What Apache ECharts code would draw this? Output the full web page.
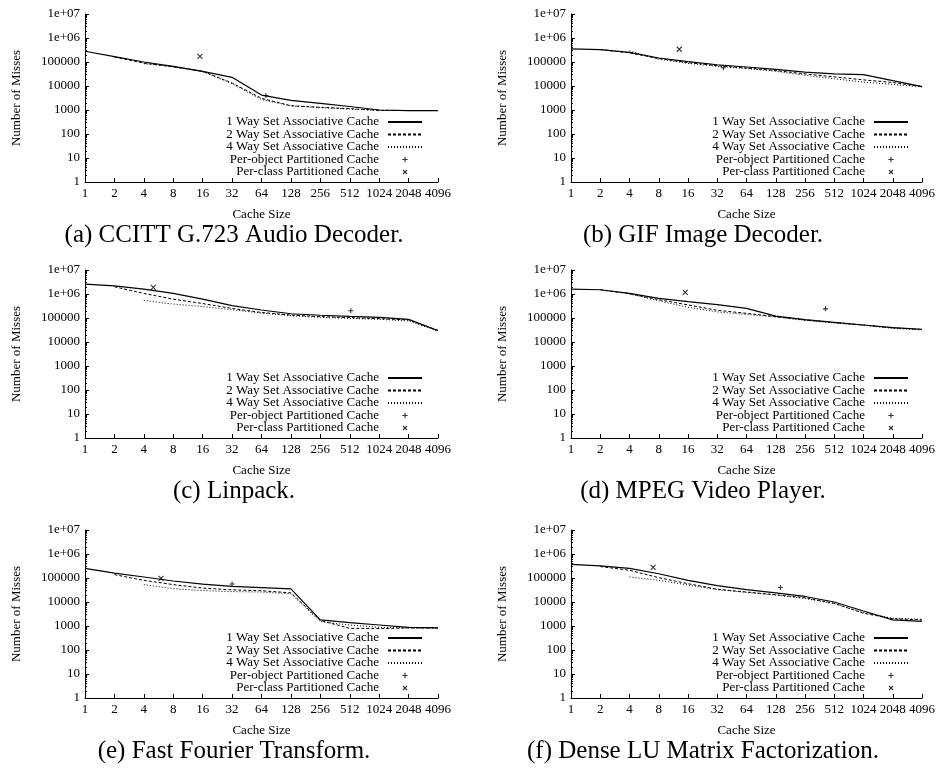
<!DOCTYPE html>
<html>
<head>
  <meta charset="utf-8">
  <title>Number of Misses vs Cache Size</title>
  <script src="https://cdn.jsdelivr.net/npm/echarts@6/dist/echarts.min.js"></script>
  <style>
    html, body { margin: 0; padding: 0; background: #fff; }
    #main { width: 938px; height: 777px; }
  </style>
</head>
<body>
  <div id="main"></div>
  <script>
  var cacheSizes = [1, 2, 4, 8, 16, 32, 64, 128, 256, 512, 1024, 2048, 4096];
  var yTickValues = [1, 10, 100, 1000, 10000, 100000, 1000000, 10000000];
  var yTickLabels = ['1', '10', '100', '1000', '10000', '100000', '1e+06', '1e+07'];
  var seriesNames = ['1 Way Set Associative Cache', '2 Way Set Associative Cache', '4 Way Set Associative Cache',
                     'Per-object Partitioned Cache', 'Per-class Partitioned Cache'];
  var captions = ['(a) CCITT G.723 Audio Decoder.', '(b) GIF Image Decoder.', '(c) Linpack.',
                  '(d) MPEG Video Player.', '(e) Fast Fourier Transform.', '(f) Dense LU Matrix Factorization.'];

  // (a) CCITT G.723
  var aWay1 = [2.8e5, 1.67e5, 1.0e5, 6.6e4, 4.1e4, 2.3e4, 4.2e3, 2.5e3, 1.9e3, 1.4e3, 1.0e3, 950, 950];
  var aWay2 = [null, 1.6e5, 9.0e4, 6.3e4, 4.1e4, 1.33e4, 3.07e3, 1.5e3, 1.3e3, 1.13e3, 970, 950, 950];
  var aWay4 = [null, null, 8.5e4, 6.3e4, 4.0e4, 1.25e4, 2.7e3, 1.5e3, 1.25e3, 1.1e3, 950, 950, 950];
  var aObj = [[71, 4000]];
  var aCls = [[15, 1.7e5]];
  // (b) GIF
  var bWay1 = [3.5e5, 3.3e5, 2.5e5, 1.47e5, 1.03e5, 7.7e4, 6.2e4, 4.9e4, 3.8e4, 3.2e4, 3.0e4, 1.67e4, 9.4e3];
  var bWay2 = [null, 3.3e5, 2.4e5, 1.4e5, 9.4e4, 7.0e4, 5.6e4, 4.4e4, 3.2e4, 2.4e4, 1.8e4, 1.4e4, 9.4e3];
  var bWay4 = [null, null, 2.9e5, 1.3e5, 8.8e4, 6.6e4, 5.3e4, 4.1e4, 2.8e4, 2.0e4, 1.45e4, 1.17e4, 9.2e3];
  var bObj = [[37, 5.8e4]];
  var bCls = [[13, 3.4e5]];
  // (c) Linpack
  var cWay1 = [2.6e6, 2.2e6, 1.6e6, 1.06e6, 6.1e5, 3.3e5, 2.15e5, 1.5e5, 1.3e5, 1.17e5, 1.07e5, 8.8e4, 3.0e4];
  var cWay2 = [null, 2.0e6, 1.06e6, 6.1e5, 4.0e5, 2.5e5, 1.7e5, 1.33e5, 1.14e5, 1.03e5, 9.4e4, 8.3e4, 3.0e4];
  var cWay4 = [null, null, 5.4e5, 3.8e5, 3.0e5, 2.2e5, 1.6e5, 1.25e5, 1.06e5, 9.7e4, 8.8e4, 7.5e4, 2.8e4];
  var cObj = [[525, 2.0e5]];
  var cCls = [[5, 1.9e6]];
  // (d) MPEG
  var dWay1 = [1.6e6, 1.5e6, 1.06e6, 6.6e5, 4.8e5, 3.6e5, 2.5e5, 1.2e5, 8.5e4, 6.6e4, 5.1e4, 4.0e4, 3.4e4];
  var dWay2 = [null, 1.5e6, 1.03e6, 5.8e5, 3.5e5, 2.1e5, 1.56e5, 1.14e5, 8.3e4, 6.4e4, 5.1e4, 3.9e4, 3.3e4];
  var dWay4 = [null, null, 1.0e6, 5.2e5, 2.8e5, 1.8e5, 1.4e5, 1.1e5, 8.0e4, 6.2e4, 5.0e4, 3.7e4, 3.2e4];
  var dObj = [[416, 2.4e5]];
  var dCls = [[15, 1.17e6]];
  // (e) FFT
  var eWay1 = [2.5e5, 1.6e5, 1.1e5, 7.5e4, 5.6e4, 4.5e4, 4.0e4, 3.5e4, 1.8e3, 1.37e3, 1.1e3, 880, 830];
  var eWay2 = [null, 1.38e5, 8.0e4, 5.3e4, 3.8e4, 3.2e4, 2.95e4, 2.4e4, 1.7e3, 800, 780, 830, 830];
  var eWay4 = [null, null, 5.3e4, 3.6e4, 3.0e4, 2.7e4, 2.6e4, 2.2e4, 1.5e3, 1.1e3, 880, 830, 830];
  var eObj = [[32, 5.6e4]];
  var eCls = [[6, 9.7e4]];
  // (f) Dense LU
  var fWay1 = [3.7e5, 3.2e5, 2.5e5, 1.5e5, 8.0e4, 4.8e4, 3.3e4, 2.4e4, 1.7e4, 1.0e4, 4.2e3, 1.8e3, 1.55e3];
  var fWay2 = [null, 3.0e5, 2.1e5, 1.03e5, 5.8e4, 3.4e4, 2.6e4, 2.0e4, 1.5e4, 8.8e3, 3.4e3, 2.0e3, 1.8e3];
  var fWay4 = [null, null, 1.1e5, 8.0e4, 5.1e4, 3.3e4, 2.5e4, 1.95e4, 1.4e4, 8.5e3, 3.6e3, 2.1e3, 1.9e3];
  var fObj = [[143, 4.0e4]];
  var fCls = [[7, 2.8e5]];

  var panels = [
    [aWay1, aWay2, aWay4, aObj, aCls],
    [bWay1, bWay2, bWay4, bObj, bCls],
    [cWay1, cWay2, cWay4, cObj, cCls],
    [dWay1, dWay2, dWay4, dObj, dCls],
    [eWay1, eWay2, eWay4, eObj, eCls],
    [fWay1, fWay2, fWay4, fObj, fCls]
  ];

  var FONT = "'Liberation Serif', 'Times New Roman', serif";
  var plotLeft = [85, 571];
  var plotTop = [14, 270, 530];
  var plotW = 353, plotH = 168;

  // log minor ticks 2..9 of each decade
  var minorTicks = [];
  for (var d = 0; d < 7; d++) {
    for (var k = 2; k <= 9; k++) minorTicks.push(k * Math.pow(10, d));
  }

  function pairs(vals) {
    var out = [];
    vals.forEach(function (v, i) { if (v != null) out.push([cacheSizes[i], v]); });
    return out;
  }

  var lineStyles = [
    { color: '#000', width: 1.2, type: 'solid' },
    { color: '#000', width: 1, type: [3, 2] },
    { color: '#000', width: 1, type: [1, 2] }
  ];
  var plusPath = 'path://M5,0L5,10M0,5L10,5';
  var crossPath = 'path://M0,0L10,10M10,0L0,10';
  // same marks with empty margin so the legend draws them small
  var plusIcon = 'path://M0,0M12,12M6,2L6,10M2,6L10,6';
  var crossIcon = 'path://M0,0M12,12M3,3L9,9M9,3L3,9';

  var legendData = [
    { name: seriesNames[0], itemStyle: { opacity: 0 } },
    { name: seriesNames[1], itemStyle: { opacity: 0 } },
    { name: seriesNames[2], itemStyle: { opacity: 0 } },
    { name: seriesNames[3], icon: plusIcon },
    { name: seriesNames[4], icon: crossIcon }
  ];

  var grid = [], xAxis = [], yAxis = [], series = [], legend = [], title = [];

  panels.forEach(function (p, i) {
    var col = i % 2, row = Math.floor(i / 2);
    var left = plotLeft[col], top = plotTop[row];
    grid.push({ left: left, top: top, width: plotW, height: plotH });
    xAxis.push({
      type: 'log', logBase: 2, gridIndex: i, min: 1, max: 4096, splitNumber: 12,
      name: 'Cache Size', nameLocation: 'middle', nameGap: 26,
      nameTextStyle: { fontFamily: FONT, fontSize: 13, color: '#000' },
      axisLine: { lineStyle: { color: '#000', width: 1 } },
      axisTick: { inside: true, length: 4, lineStyle: { color: '#000' }, customValues: cacheSizes },
      axisLabel: { fontFamily: FONT, fontSize: 13, color: '#000', margin: 5, customValues: cacheSizes,
        formatter: function (v) { return String(Math.round(v)); } },
      splitLine: { show: false }
    });
    yAxis.push({
      type: 'log', logBase: 10, gridIndex: i, min: 1, max: 1e7, position: 'left',
      name: 'Number of Misses', nameLocation: 'middle', nameGap: 62, nameRotate: 90,
      nameTextStyle: { fontFamily: FONT, fontSize: 13, color: '#000' },
      axisLine: { lineStyle: { color: '#000', width: 1 } },
      axisTick: { inside: true, length: 4, lineStyle: { color: '#000' }, customValues: yTickValues },
      axisLabel: { fontFamily: FONT, fontSize: 13, color: '#000', margin: 5, customValues: yTickValues,
        formatter: function (v) { return yTickLabels[Math.round(Math.log10(v))]; } },
      splitLine: { show: false }
    });
    yAxis.push({
      type: 'log', logBase: 10, gridIndex: i, min: 1, max: 1e7, position: 'left', offset: 0,
      axisLine: { show: false },
      axisTick: { inside: true, length: 2, lineStyle: { color: '#000' }, customValues: minorTicks },
      axisLabel: { show: false },
      splitLine: { show: false }
    });

    for (var s = 0; s < 3; s++) {
      series.push({
        name: seriesNames[s], type: 'line', xAxisIndex: i, yAxisIndex: i * 2,
        data: pairs(p[s]), symbol: 'none', lineStyle: lineStyles[s], silent: true, z: 3 - s
      });
    }
    [plusPath, crossPath].forEach(function (sym, j) {
      series.push({
        name: seriesNames[3 + j], type: 'scatter', xAxisIndex: i, yAxisIndex: i * 2,
        data: p[3 + j], symbol: sym, symbolSize: 5,
        itemStyle: { color: 'transparent', borderColor: '#000', borderWidth: 1.1 }
      });
    });

    legend.push({
      orient: 'vertical', align: 'right', padding: 0,
      right: 938 - (left + plotW - 15), top: top + 101.5,
      itemWidth: 34, itemHeight: 8, itemGap: -0.5,
      selectedMode: false,
      textStyle: { fontFamily: FONT, fontSize: 13, color: '#000', padding: [0, 4, 0, 0] },
      itemStyle: { borderColor: '#000', borderWidth: 1.1 },
      data: legendData
    });

    title.push({
      text: captions[i], left: col === 0 ? 234 : 703, textAlign: 'center', top: top + 209, padding: 0,
      textStyle: { fontFamily: FONT, fontSize: 25, fontWeight: 'normal', color: '#000' }
    });
  });

  var myChart = echarts.init(document.getElementById('main'));
  myChart.setOption({
    animation: false,
    backgroundColor: '#fff',
    title: title,
    grid: grid,
    xAxis: xAxis,
    yAxis: yAxis,
    legend: legend,
    series: series
  });
  </script>
</body>
</html>
